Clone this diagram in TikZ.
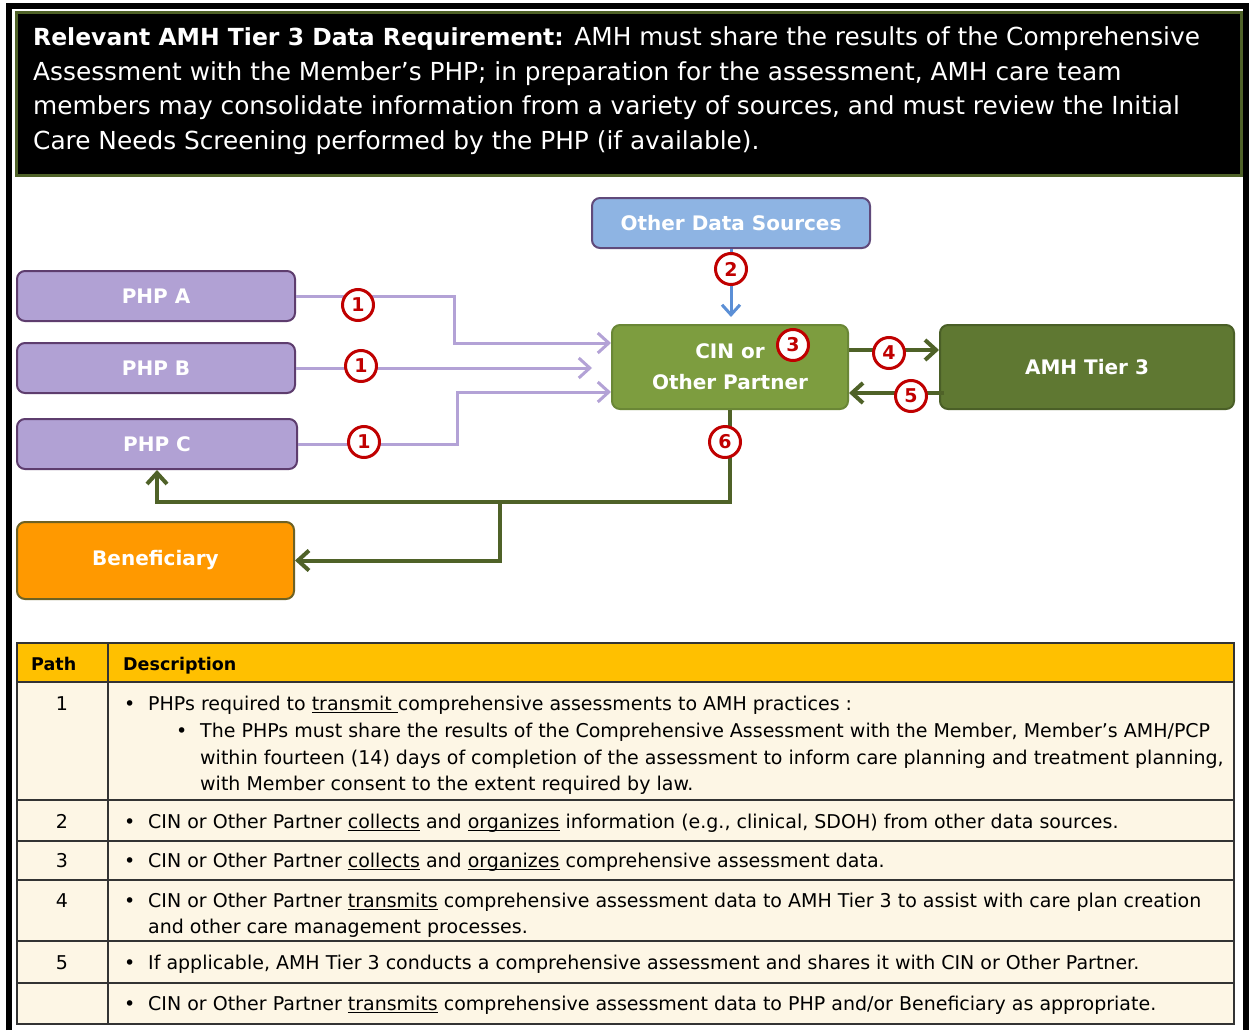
\documentclass[tikz,border=0pt]{standalone}
\usepackage{fontspec}
\setmainfont{DejaVu Sans}
\usetikzlibrary{arrows.meta,calc}

\definecolor{hdrline}{HTML}{4F6228}
\definecolor{lavfill}{HTML}{B1A1D4}
\definecolor{lavdraw}{HTML}{5E3D6E}
\definecolor{lavline}{HTML}{B3A2D6}
\definecolor{odsfill}{HTML}{8EB4E3}
\definecolor{odsdraw}{HTML}{604A7B}
\definecolor{cinfill}{HTML}{7D9D3F}
\definecolor{cindraw}{HTML}{6A8736}
\definecolor{amhfill}{HTML}{5F7832}
\definecolor{amhdraw}{HTML}{4A5F27}
\definecolor{benfill}{HTML}{FF9900}
\definecolor{bendraw}{HTML}{6E6224}
\definecolor{grnline}{HTML}{4F6228}
\definecolor{blueline}{HTML}{5B8FD6}
\definecolor{bred}{HTML}{C00000}
\definecolor{thead}{HTML}{FFC000}
\definecolor{tbody}{HTML}{FDF6E5}
\definecolor{tgrid}{HTML}{333333}

% underline at a fixed depth below the baseline
\newcommand\ulword[1]{\setbox0\hbox{#1}\rlap{\rule[-3pt]{\wd0}{1.3pt}}\box0\relax}
\newcommand\bul{\makebox[24pt][l]{•}}

\begin{document}
\begin{tikzpicture}[x=1pt,y=-1pt,
  box/.style={rounded corners=8pt, line width=2pt, inner sep=0pt, align=center,
    text=white, font=\bfseries\fontsize{20}{31}\selectfont},
  badge/.style={circle, draw=bred, line width=3pt, fill=white, minimum size=31pt,
    inner sep=0pt, text=bred, font=\bfseries\fontsize{19}{19}\selectfont},
  lavarrow/.style={draw=lavline, line width=3pt, -{Straight Barb[length=11pt,width=20pt]}},
  grnarrow/.style={draw=grnline, line width=4pt, -{Straight Barb[length=11pt,width=20pt]}},
  bluearrow/.style={draw=blueline, line width=3pt, -{Straight Barb[length=10pt,width=18pt]}},
  hdrtext/.style={anchor=base west, inner sep=0pt, text=white, font=\fontsize{24.8}{30}\selectfont},
  ttext/.style={anchor=base west, inner sep=0pt, font=\fontsize{19}{26}\selectfont},
  tnum/.style={anchor=base, inner sep=0pt, font=\fontsize{19}{26}\selectfont},
  thtext/.style={anchor=base west, inner sep=0pt, font=\bfseries\fontsize{17.5}{26}\selectfont},
  grid/.style={draw=tgrid, line width=2pt}
]
\useasboundingbox (0,0) rectangle (1249,1030);
\fill[white] (0,0) rectangle (1249,1030);

% outer frame
\draw[line width=6pt, black] (9,1030) -- (9,6) -- (1246,6) -- (1246,1030);

% requirement banner
\draw[fill=black, draw=hdrline, line width=3pt] (16.5,12.5) rectangle (1241.5,175.5);
\node[hdrtext] (h1) at (33,46) {{\bfseries\fontsize{23.5}{30}\selectfont Relevant AMH Tier 3 Data Requirement:} AMH must share the results of the Comprehensive};
\node[hdrtext] (h2) at (33,80.5) {Assessment with the Member’s PHP; in preparation for the assessment, AMH care team};
\node[hdrtext] (h3) at (33,115) {members may consolidate information from a variety of sources, and must review the Initial};
\node[hdrtext] (h4) at (33,149.5) {Care Needs Screening performed by the PHP (if available).};

% entities
\node[box, fill=odsfill, draw=odsdraw, minimum width=278pt, minimum height=50pt] (ods) at (731,223) {Other Data Sources};
\node[box, fill=lavfill, draw=lavdraw, minimum width=278pt, minimum height=50pt] (phpA) at (156,296) {PHP A};
\node[box, fill=lavfill, draw=lavdraw, minimum width=278pt, minimum height=50pt] (phpB) at (156,368) {PHP B};
\node[box, fill=lavfill, draw=lavdraw, minimum width=280pt, minimum height=50pt] (phpC) at (157,444) {PHP C};
\node[box, fill=benfill, draw=bendraw, minimum width=277pt, minimum height=77pt] (ben) at (155.5,560.5) {Beneficiary};
\node[box, fill=cinfill, draw=cindraw, minimum width=236pt, minimum height=84pt] (cin) at (730,367) {CIN or\\Other Partner};
\node[box, fill=amhfill, draw=amhdraw, minimum width=294pt, minimum height=84pt] (amh) at (1087,367) {AMH Tier 3};

% PHP feeds into the partner
\draw[lavarrow] (phpA.east) -- ++(158,0) |- ($(cin.west)+(0,-24)$);
\draw[lavarrow] (phpB.east) -- ($(cin.west |- phpB.east)+(-19,0)$);
\draw[lavarrow] (phpC.east) -- ++(159,0) |- ($(cin.west)+(0,25)$);

% other data sources
\draw[bluearrow] (ods.south) -- ($(ods.south |- cin.north)+(0,-7)$);

% exchange with AMH Tier 3
\draw[grnarrow] ($(cin.east)+(0,-17)$) -- ($(amh.west)+(0,-17)$);
\draw[grnarrow] ($(amh.west)+(5,26)$) -- ($(cin.east)+(0,26)$);

% return path to PHP and beneficiary
\coordinate (split) at (500,502);
\draw[grnarrow] (cin.south) |- (split) -| (phpC.south);
\draw[grnarrow] (split) |- (ben.east);

% path badges
\node[badge] (n1a) at (358,305) {1};
\node[badge] (n1b) at (361,366) {1};
\node[badge] (n1c) at (364,442) {1};
\node[badge] (n2) at (731,269) {2};
\node[badge] (n3) at (793,345) {3};
\node[badge] (n4) at (889,353) {4};
\node[badge] (n5) at (911,396) {5};
\node[badge] (n6) at (725,442) {6};

% path table
\fill[thead] (17,643) rectangle (1234,682);
\fill[tbody] (17,682) rectangle (1234,1024);
\draw[grid] (17,643) rectangle (1234,1024);
\foreach \yy in {682,800,841,880,941,983} \draw[grid] (17,\yy) -- (1234,\yy);
\draw[grid] (108,643) -- (108,1024);

\node[thtext] (thp) at (31,670) {Path};
\node[thtext] (thd) at (123,670) {Description};

\node[tnum] (p1) at (62,710) {1};
\node[ttext] (r1a) at (124,710) {\bul PHPs required to \ulword{transmit\ }comprehensive assessments to AMH practices :};
\node[ttext] (r1b) at (176,737) {\makebox[24pt][l]{•}The PHPs must share the results of the Comprehensive Assessment with the Member, Member’s AMH/PCP};
\node[ttext] (r1c) at (200,764) {within fourteen (14) days of completion of the assessment to inform care planning and treatment planning,};
\node[ttext] (r1d) at (200,790) {with Member consent to the extent required by law.};

\node[tnum] (p2) at (62,828) {2};
\node[ttext] (r2) at (124,828) {\bul CIN or Other Partner \ulword{collects} and \ulword{organizes} information (e.g., clinical, SDOH) from other data sources.};

\node[tnum] (p3) at (62,867) {3};
\node[ttext] (r3) at (124,867) {\bul CIN or Other Partner \ulword{collects} and \ulword{organizes} comprehensive assessment data.};

\node[tnum] (p4) at (62,907) {4};
\node[ttext] (r4a) at (124,907) {\bul CIN or Other Partner \ulword{transmits} comprehensive assessment data to AMH Tier 3 to assist with care plan creation};
\node[ttext] (r4b) at (148,933) {and other care management processes.};

\node[tnum] (p5) at (62,969) {5};
\node[ttext] (r5) at (124,969) {\bul If applicable, AMH Tier 3 conducts a comprehensive assessment and shares it with CIN or Other Partner.};

\node[ttext] (r6) at (124,1010) {\bul CIN or Other Partner \ulword{transmits} comprehensive assessment data to PHP and/or Beneficiary as appropriate.};
\end{tikzpicture}
\end{document}
